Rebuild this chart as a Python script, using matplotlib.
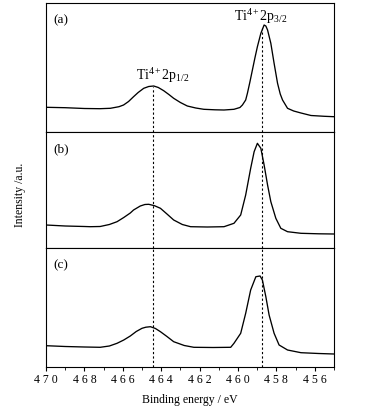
"""Ti 2p XPS spectra, three samples stacked (a)/(b)/(c)."""
import matplotlib
matplotlib.use("Agg")
import matplotlib.pyplot as plt
import numpy as np

plt.rcParams["font.family"] = ["Liberation Serif", "DejaVu Serif"]
plt.rcParams["mathtext.fontset"] = "custom"
plt.rcParams["mathtext.rm"] = "Liberation Serif"
plt.rcParams["mathtext.it"] = "Liberation Serif:italic"

# binding energy (eV) / intensity (a.u.)
energy_a = [470.0, 469.0, 468.0, 467.2, 466.65, 466.2, 465.96, 465.7, 465.44, 465.2,
            464.91, 464.65, 464.39, 464.15, 463.87, 463.6, 463.35, 463.0, 462.64, 462.2,
            461.78, 461.2, 460.73, 460.21, 459.9, 459.77, 459.6, 459.51, 459.38, 459.25,
            459.12, 458.99, 458.81, 458.64, 458.55, 458.46, 458.29, 458.12, 457.94, 457.8,
            457.68, 457.42, 457.1, 456.72, 456.2, 455.5, 455.0]
intens_a = [24.7, 24.3, 23.5, 23.3, 23.7, 25.3, 27.0, 30.5, 35.3, 39.5,
            43.7, 45.5, 46.0, 44.5, 41.3, 37.5, 33.7, 29.5, 26.0, 24.0,
            22.7, 22.2, 22.0, 22.7, 24.5, 27.0, 32.0, 38.7, 50.0, 62.0,
            74.0, 85.3, 98.7, 107.0, 106.0, 102.0, 88.7, 68.7, 48.7, 38.0,
            32.0, 23.7, 21.0, 19.0, 16.5, 15.7, 15.3]

energy_b = [470.0, 469.0, 468.0, 467.7, 467.18, 466.7, 466.3, 465.95, 465.61, 465.44,
            465.09, 464.85, 464.65, 464.35, 464.04, 463.7, 463.35, 462.9, 462.47, 461.6,
            460.73, 460.21, 459.86, 459.6, 459.34, 459.16, 458.99, 458.81, 458.64, 458.46,
            458.29, 458.03, 457.77, 457.42, 456.72, 455.8, 455.0]
intens_b = [23.0, 22.0, 21.5, 21.3, 21.5, 23.5, 26.3, 30.5, 35.0, 38.0,
            42.0, 43.5, 43.7, 42.3, 39.7, 34.0, 28.0, 23.5, 21.3, 21.0,
            21.3, 24.7, 33.0, 53.0, 79.7, 96.3, 104.7, 99.7, 83.0, 63.0,
            46.3, 29.7, 19.7, 16.3, 14.7, 14.2, 14.0]

energy_c = [470.0, 469.0, 468.0, 467.18, 466.7, 466.3, 465.95, 465.61, 465.3, 465.0,
            464.8, 464.56, 464.3, 464.04, 463.7, 463.35, 462.8, 462.3, 461.3, 460.38,
            460.21, 459.86, 459.6, 459.34, 459.07, 458.85, 458.73, 458.55, 458.38, 458.12,
            457.86, 457.42, 456.72, 455.8, 455.0]
intens_c = [21.3, 20.5, 20.0, 19.7, 21.0, 23.7, 27.0, 31.0, 35.5, 38.7,
            39.8, 40.3, 38.5, 35.3, 30.5, 25.3, 21.5, 19.7, 19.5, 19.7,
            23.7, 33.7, 53.7, 77.0, 90.3, 91.0, 87.0, 70.3, 52.0, 33.7,
            22.0, 17.0, 14.3, 13.5, 13.0]

panel_labels = ["(a)", "(b)", "(c)"]
peak_2p12 = 464.42
peak_2p32 = 458.75
xticks = [470, 468, 466, 464, 462, 460, 458, 456]


def spaced(s):
    return " ".join(s)


def main():
    fig = plt.figure(figsize=(3.74, 4.13), dpi=100)
    left, width = 46 / 374, 288 / 374
    # (top px, bottom px) of each panel
    rows = [(3, 132), (132, 248), (248, 367)]
    data = [(energy_a, intens_a), (energy_b, intens_b), (energy_c, intens_c)]

    axes = []
    for i, ((top, bot), (e, y)) in enumerate(zip(rows, data)):
        h = bot - top
        ax = fig.add_axes([left, 1 - bot / 413, width, h / 413])
        ax.plot(e, y, color="black", lw=0.95)
        ax.set_xlim(470, 455)
        ax.set_ylim(0, h)
        ax.set_yticks([])
        for sp in ax.spines.values():
            sp.set_linewidth(0.8)
        ax.text(0.025, 1 - 17 / h, panel_labels[i], transform=ax.transAxes,
                fontsize=9.5, va="center", ha="left")
        # dashed guides through the peak positions
        if i == 0:
            ax.axvline(peak_2p12, ymin=0, ymax=45 / h, color="black", lw=0.8, ls=(0, (2, 2)))
            ax.axvline(peak_2p32, ymin=0, ymax=104 / h, color="black", lw=0.8, ls=(0, (2, 2)))
        else:
            ax.axvline(peak_2p12, color="black", lw=0.8, ls=(0, (2, 2)))
            ax.axvline(peak_2p32, color="black", lw=0.8, ls=(0, (2, 2)))
        if i < 2:
            ax.set_xticks([])
        else:
            ax.set_xticks(xticks)
            ax.set_xticklabels([spaced(str(t)) for t in xticks], fontsize=8.5)
            ax.set_xticks(np.arange(455, 471, 1), minor=True)
            ax.tick_params(axis="x", which="major", direction="out", length=3, width=0.8, pad=2)
            ax.tick_params(axis="x", which="minor", direction="out", length=2, width=0.6)
            ax.set_xlabel("Binding energy / eV", fontsize=8.5, labelpad=6)
        axes.append(ax)

    ax = axes[0]
    ax.text(463.9, 52, r"Ti$^{4+}$2p$_{1/2}$", fontsize=10, ha="center", va="baseline")
    ax.text(458.8, 111, r"Ti$^{4+}$2p$_{3/2}$", fontsize=10, ha="center", va="baseline")

    fig.text(20 / 374, 1 - 195 / 413, "Intensity /a.u.", rotation=90,
             fontsize=8.5, ha="center", va="center")

    fig.savefig("out.png", dpi=100)
    plt.close(fig)


if __name__ == "__main__":
    main()
